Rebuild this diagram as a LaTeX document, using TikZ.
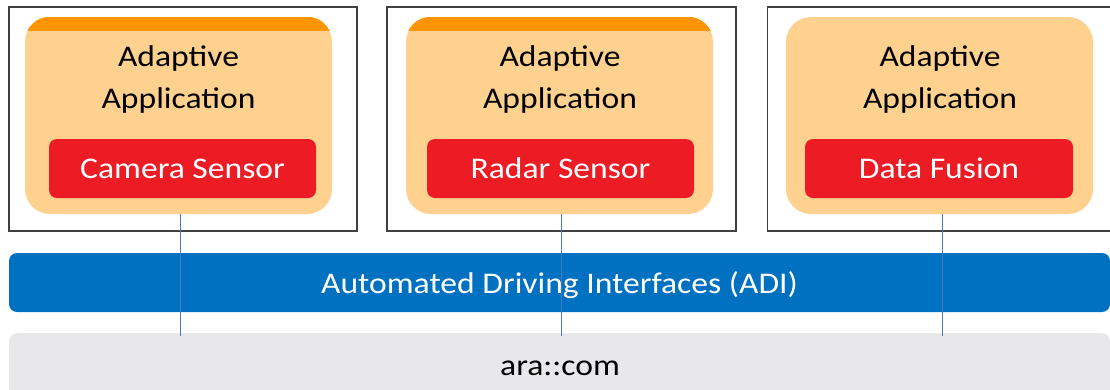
\documentclass[tikz,border=0pt]{standalone}
\usepackage{fontspec}
\setmainfont{Carlito}[FakeStretch=1.12]
\definecolor{frameC}{HTML}{404040}
\definecolor{appC}{HTML}{FFD18F}
\definecolor{bandC}{HTML}{FF9400}
\definecolor{redC}{HTML}{ED1C24}
\definecolor{blueC}{HTML}{0070C0}
\definecolor{grayC}{HTML}{E8E8EB}
\definecolor{lineC}{HTML}{4A78C8}
\begin{document}
\begin{tikzpicture}[x=1pt,y=-1pt,
  frame/.style={draw=frameC,line width=1.4pt,rectangle,inner sep=0pt},
  appbox/.style={fill=appC,rounded corners=25pt,rectangle,inner sep=0pt,minimum width=307pt,minimum height=197pt},
  redbox/.style={fill=redC,rounded corners=8pt,rectangle,inner sep=0pt,minimum width=267pt,minimum height=59pt,text=white,font=\fontsize{30}{36}\selectfont},
  title/.style={align=center,font=\fontsize{30}{42}\selectfont,text=black,inner sep=0pt,anchor=base},
  bar/.style={rounded corners=8pt,rectangle,inner sep=0pt,font=\fontsize{30}{36}\selectfont},
  conn/.style={draw=lineC,line width=1pt}]
\useasboundingbox (0,0) rectangle (1110,389);
% outer frames
\node[frame,minimum width=348pt,minimum height=224pt] (f1) at (183,119) {};
\node[frame,minimum width=349pt,minimum height=224pt] (f2) at (561.5,119) {};
\node[frame,minimum width=348pt,minimum height=224pt,anchor=west] (f3) at (767,119) {};
% application boxes
\node[appbox] (a1) at (178.5,115.5) {};
\node[appbox] (a2) at (559.5,115.5) {};
\node[appbox] (a3) at (939.5,115.5) {};
% top bands
\begin{scope}
  \clip[rounded corners=25pt] (a1.north west) rectangle (a1.south east);
  \fill[bandC] (a1.north west) rectangle ([yshift=-14pt]a1.north east);
\end{scope}
\begin{scope}
  \clip[rounded corners=25pt] (a2.north west) rectangle (a2.south east);
  \fill[bandC] (a2.north west) rectangle ([yshift=-14pt]a2.north east);
\end{scope}
% titles
\node[title] (t1) at (178.5,108) {Adaptive\\Application};
\node[title] (t2) at (560,108) {Adaptive\\Application};
\node[title] (t3) at (940,108) {Adaptive\\Application};
% red boxes
\node[redbox] (r1) at (182.5,168.5) {Camera Sensor};
\node[redbox] (r2) at (560.5,168.5) {Radar Sensor};
\node[redbox,minimum width=268pt] (r3) at (939,168.5) {Data Fusion};
% bars
\node[bar,fill=blueC,text=white,minimum width=1101pt,minimum height=59pt,text height=28pt,text depth=6pt] (adi) at (559.5,282.5) {Automated Driving Interfaces (ADI)};
\node[bar,fill=grayC,text=black,minimum width=1101pt,minimum height=70pt,anchor=north] (ara) at (559.5,333) {};
\node[font=\fontsize{30}{36}\selectfont,anchor=base,inner sep=0pt] (aratxt) at (560,375) {ara::com};
% connectors
\draw[conn] (a1.south -| 180,0) -- (180,336);
\draw[conn] (a2.south -| 561,0) -- (561,336);
\draw[conn] (a3.south -| 942,0) -- (942,336);
\end{tikzpicture}
\end{document}
